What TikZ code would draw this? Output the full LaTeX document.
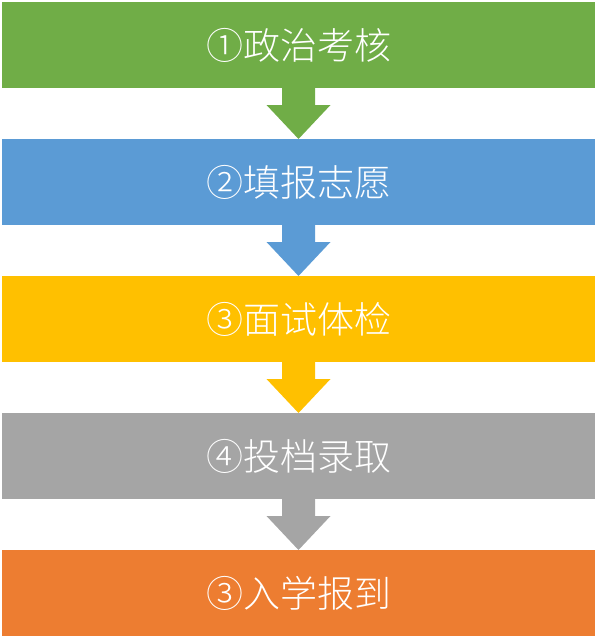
\documentclass[tikz,border=0pt]{standalone}
\usepackage{fontspec}
\newfontfamily\cjk{Noto Sans CJK SC Light}
\usetikzlibrary{calc}
\definecolor{cgreen}{HTML}{70AD47}
\definecolor{cblue}{HTML}{5B9BD5}
\definecolor{cyellow}{HTML}{FFC000}
\definecolor{cgray}{HTML}{A5A5A5}
\definecolor{corange}{HTML}{ED7D31}
\tikzset{
  bar/.style={fill=#1, minimum width=593pt, minimum height=86pt, inner sep=0pt, outer sep=0pt,
    text=white, font=\cjk\fontsize{37}{40}\selectfont},
}
\newcommand{\flowarrow}[3]{%
  \fill[#3] ($(#1.south)+(-16.5,0)$) -- ($(#1.south)+(16.5,0)$) -- ($(#1.south)+(16.5,17)$)
    -- ($(#1.south)+(32,17)$) -- (#2.north) -- ($(#1.south)+(-32,17)$)
    -- ($(#1.south)+(-16.5,17)$) -- cycle;}
\begin{document}
\begin{tikzpicture}[x=1pt,y=-1pt]
\useasboundingbox (0,0) rectangle (597,642);
\node[bar=cgreen] (s1) at (298.5,45) {①政治考核};
\node[bar=cblue] (s2) at (298.5,182) {②填报志愿};
\node[bar=cyellow] (s3) at (298.5,319) {③面试体检};
\node[bar=cgray] (s4) at (298.5,456) {④投档录取};
\node[bar=corange] (s5) at (298.5,593) {③入学报到};
\flowarrow{s1}{s2}{cgreen}
\flowarrow{s2}{s3}{cblue}
\flowarrow{s3}{s4}{cyellow}
\flowarrow{s4}{s5}{cgray}
\end{tikzpicture}
\end{document}
